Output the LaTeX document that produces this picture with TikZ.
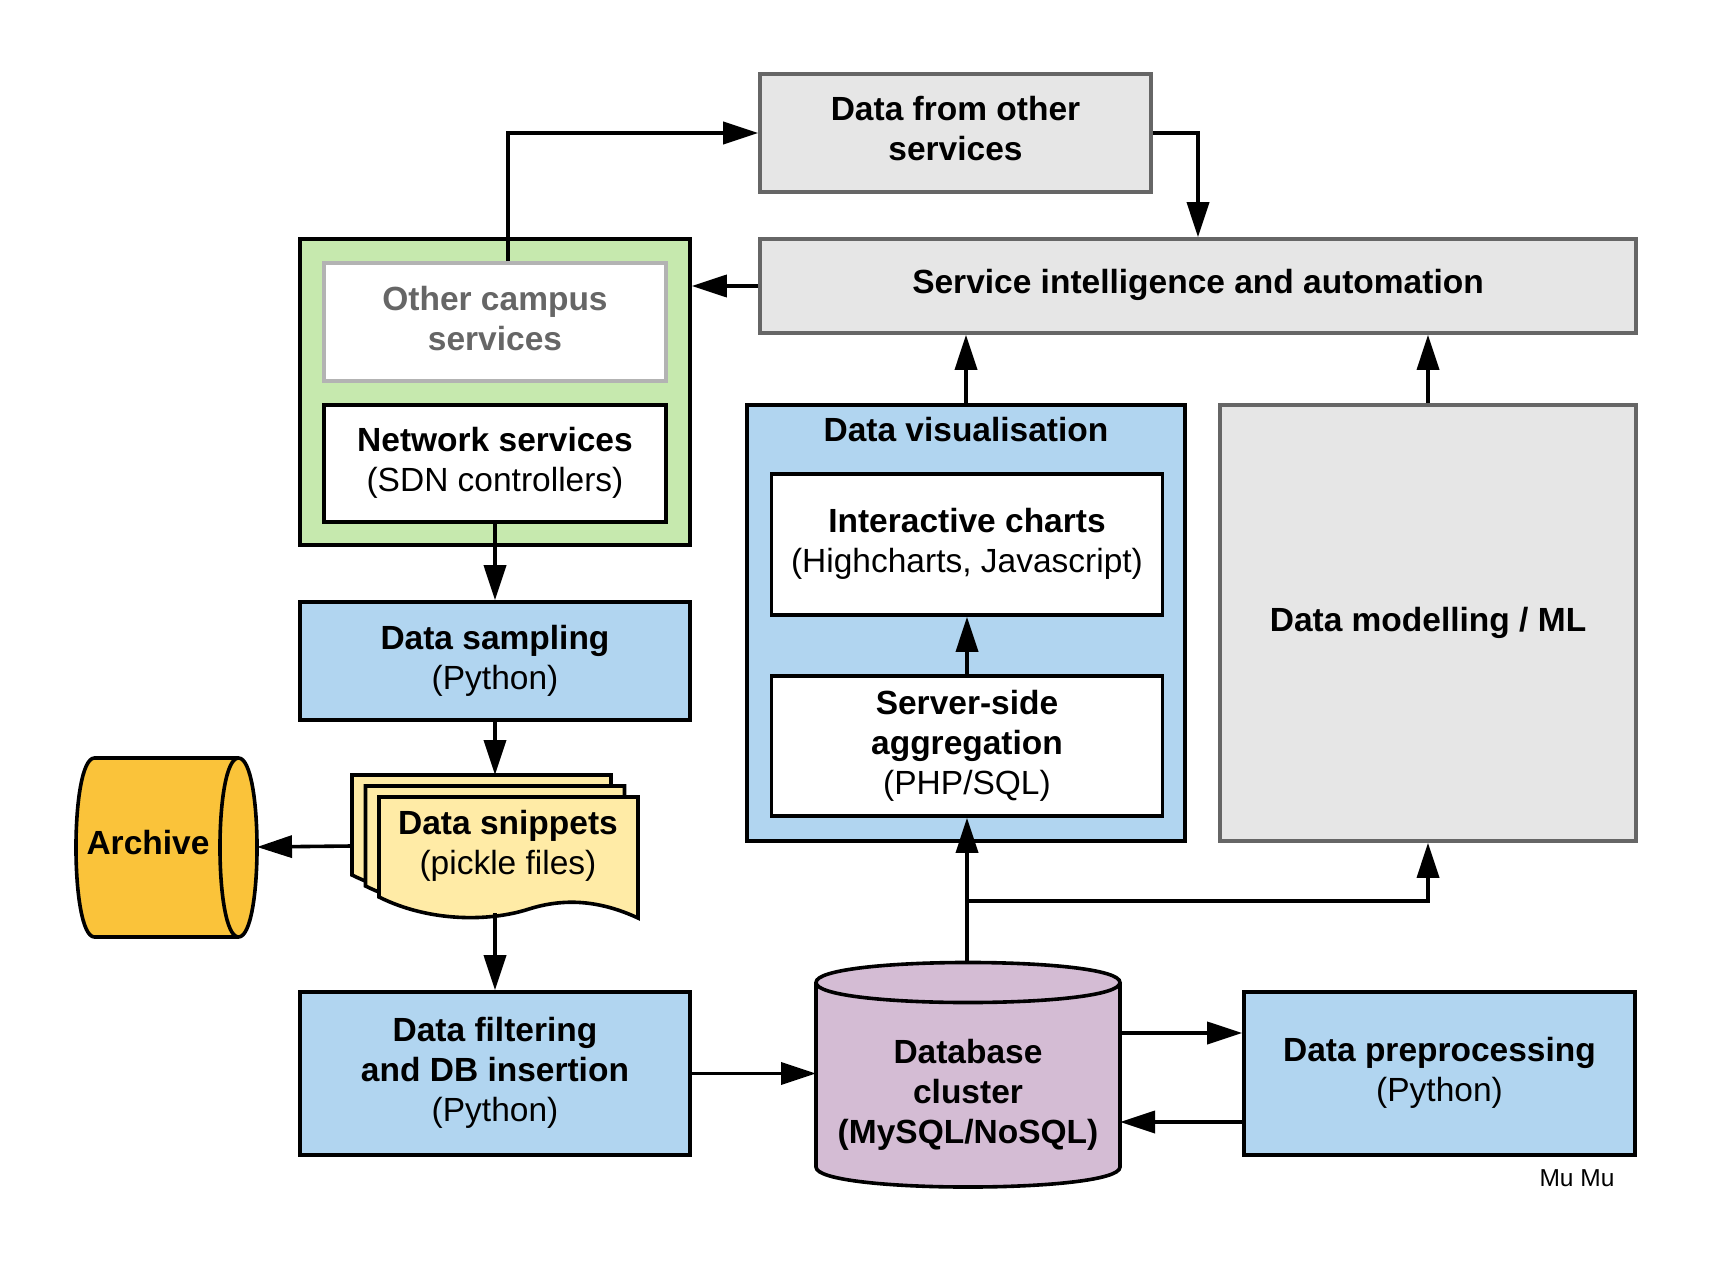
\documentclass[tikz,border=0pt]{standalone}
\usepackage{fontspec}
\setmainfont{Liberation Sans}
\usetikzlibrary{arrows.meta}
\definecolor{cgfill}{HTML}{E6E6E6}
\definecolor{cgline}{HTML}{666666}
\definecolor{cgreen}{HTML}{C6E9AE}
\definecolor{cblue}{HTML}{B1D5F0}
\definecolor{csnip}{HTML}{FFEBA6}
\definecolor{carch}{HTML}{FAC33A}
\definecolor{cdb}{HTML}{D4BCD4}
\definecolor{cother}{HTML}{B3B3B3}
\newcommand\lstr{\rule[-12pt]{0pt}{40pt}}
\tikzset{
  base/.style={draw, line width=3.6pt, align=center, inner sep=0pt,
    font=\fontsize{33.5}{40}\selectfont},
  graybox/.style={base, draw=cgline, fill=cgfill},
  bluebox/.style={base, draw=black, fill=cblue},
  whitebox/.style={base, draw=black, fill=white},
  txt/.style={align=center, inner sep=0pt, font=\fontsize{33.5}{40}\selectfont},
  shp/.style={draw=black, line width=3.6pt, line join=miter},
  arr/.style={line width=3.6pt, -{Triangle[length=35pt,width=22pt]}},
}
\begin{document}
\begin{tikzpicture}[x=1pt,y=-1pt]
\fill[white] (0,0) rectangle (1710,1281);
\useasboundingbox (0,0) rectangle (1710,1281);

% top boxes
\node[graybox, minimum width=391pt, minimum height=118pt] (dfo) at (955.5,133)
  {\lstr\textbf{Data from other}\\\lstr\textbf{services}};
\node[graybox, minimum width=876pt, minimum height=94pt] (sia) at (1198,286)
  {\lstr\textbf{Service intelligence and automation}};

% green container
\node[base, draw=black, fill=cgreen, minimum width=390pt, minimum height=306pt] (green) at (495,392) {};
\node[base, draw=cother, fill=white, text=cgline, minimum width=342pt, minimum height=118pt] (other) at (495,322)
  {\lstr\textbf{Other campus}\\\lstr\textbf{services}};
\node[whitebox, minimum width=342pt, minimum height=117pt] (net) at (495,463.5)
  {\lstr\textbf{Network services}\\\lstr(SDN controllers)};

% left column
\node[bluebox, minimum width=390pt, minimum height=118pt] (samp) at (495,661)
  {\lstr\textbf{Data sampling}\\\lstr(Python)};
\node[bluebox, minimum width=390pt, minimum height=163pt] (filt) at (495,1073.5)
  {\lstr\textbf{Data filtering}\\\lstr\textbf{and DB insertion}\\\lstr(Python)};

% data visualisation
\node[bluebox, minimum width=438pt, minimum height=436pt] (vis) at (966,623) {};
\node[txt] (vistitle) at (966,430) {\textbf{Data visualisation}};
\node[whitebox, minimum width=391pt, minimum height=141pt] (inter) at (967,544.5)
  {\lstr\textbf{Interactive charts}\\\lstr(Highcharts, Javascript)};
\node[whitebox, minimum width=391pt, minimum height=140pt] (srv) at (967,746)
  {\lstr\textbf{Server-side}\\\lstr\textbf{aggregation}\\\lstr(PHP/SQL)};

% ML
\node[graybox, minimum width=416pt, minimum height=436pt] (ml) at (1428,623)
  {\lstr\textbf{Data modelling / ML}};

% preprocessing
\node[bluebox, minimum width=391pt, minimum height=163pt] (pre) at (1439.5,1073.5)
  {\lstr\textbf{Data preprocessing}\\\lstr(Python)};

% data snippets (stacked documents)
\foreach \dx/\dy in {-27/-22, -13.5/-11, 0/0} {
  \begin{scope}[shift={(379+\dx,797+\dy)}]
    \filldraw[shp, fill=csnip] (0,0) -- (259,0) -- (259,121)
      .. controls (220,103) and (185,101) .. (150,112)
      .. controls (110,125) and (50,125) .. (0,100) -- cycle;
  \end{scope}
}
\node[txt] (snip) at (508,846) {\textbf{Data snippets}\\(pickle files)};
\coordinate (snipT) at (495,775);
\coordinate (snipL) at (352,846);
\coordinate (snipB) at (495,913);

% archive (horizontal cylinder)
\filldraw[shp, fill=carch] (94.5,758) -- (238.5,758)
  .. controls (263.2,758) and (263.2,937) .. (238.5,937)
  -- (94.5,937)
  .. controls (69.8,937) and (69.8,758) .. (94.5,758) -- cycle;
\draw[shp] (238.5,937) .. controls (213.8,937) and (213.8,758) .. (238.5,758);
\node[txt] (arch) at (148,843) {\textbf{Archive}};
\coordinate (archE) at (257,847);

% database (vertical cylinder)
\node[inner sep=0pt, outer sep=0pt, minimum width=304pt, minimum height=225pt] (db) at (968,1074.5) {};
\filldraw[shp, fill=cdb] (816,982.5) -- (816,1167)
  .. controls (816,1193.7) and (1120,1193.7) .. (1120,1167)
  -- (1120,982.5)
  .. controls (1120,955.8) and (816,955.8) .. (816,982.5) -- cycle;
\draw[shp] (816,982.5) .. controls (816,1009.2) and (1120,1009.2) .. (1120,982.5);
\node[txt] (dbtext) at (968,1095) {\textbf{Database}\\\textbf{cluster}\\\textbf{(MySQL/NoSQL)}};

% signature
\node[inner sep=0pt, font=\fontsize{24.5}{28}\selectfont] (sig) at (1577,1178) {Mu Mu};

% connectors
\coordinate (gx) at (508,0);
\coordinate (br) at (967,901);
\coordinate (ya) at (0,1033);
\coordinate (yb) at (0,1122);
\draw[arr] (other.north -| gx) |- (dfo.west);
\draw[arr] (dfo.east) -| (sia.north);
\draw[arr] (sia.west) -- (sia.west -| green.east);
\draw[arr] (vis.north) -- (vis.north |- sia.south);
\draw[arr] (ml.north) -- (ml.north |- sia.south);
\draw[arr] (net.south) -- (samp.north);
\draw[arr] (samp.south) -- (snipT);
\draw[arr] (snipL) -- (archE);
\draw[arr] (snipB) -- (filt.north);
\draw[arr] (filt.east) -- (filt.east -| db.west);
\draw[arr] (db.north -| srv.south) -- (srv.south);
\draw[arr] (br) -| (ml.south);
\draw[arr] (inter.south |- srv.north) -- (inter.south);
\draw[arr] (db.east |- ya) -- (pre.west |- ya);
\draw[arr] (pre.west |- yb) -- (db.east |- yb);
\end{tikzpicture}
\end{document}
